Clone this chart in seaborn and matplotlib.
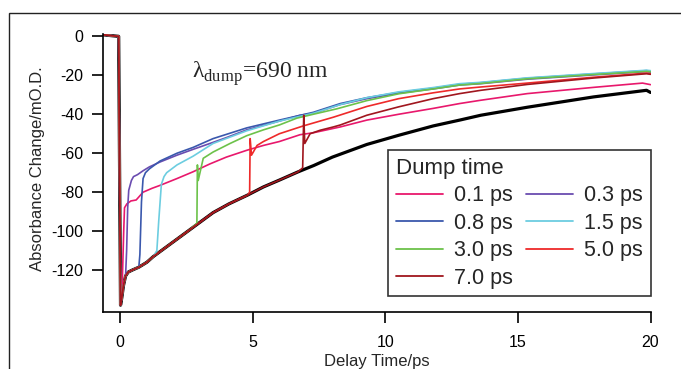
import matplotlib
matplotlib.use("Agg")
import matplotlib.pyplot as plt
from matplotlib.lines import Line2D
from matplotlib.patches import Rectangle
import seaborn as sns
import pandas as pd

# pump-only trace (black, not in legend)
t_ref = [-0.65, -0.3, -0.06, -0.03, 0.01, 0.06, 0.12, 0.2, 0.3, 0.45, 0.7, 1.0, 1.25,
         1.7, 2.15, 2.6, 2.9, 3.5, 4.1, 4.8, 5.4, 6.0, 6.7, 7.3, 8.0, 8.6, 9.3, 10.5,
         11.8, 12.8, 13.6, 15.35, 17.85, 19.85, 20.0]
v_ref = [0.8, 0.3, 0.0, -60, -138, -134, -128, -123, -121, -120, -118.5, -116, -113,
         -108.5, -104, -99.5, -96.5, -90.5, -86, -81.5, -77.3, -73.8, -69.6, -66.3, -62,
         -59, -55.5, -50.8, -46, -43, -40.5, -36.4, -31.1, -27.7, -28.8]

dump_labels = ["0.1 ps", "0.3 ps", "0.8 ps", "1.5 ps", "3.0 ps", "5.0 ps", "7.0 ps"]
dump_times = [0.1, 0.22, 0.7, 1.3, 2.88, 4.85, 6.85]
dump_colors = ["#e8186c", "#6a4cb0", "#3a58ad", "#6ccde0", "#6cc24a", "#ee2a2a", "#a0161e"]

# points after each dump pulse
t_01 = [0.13, 0.16, 0.25, 0.4, 0.6, 0.86, 1.2, 1.5, 2.14, 2.75, 3.38, 4.0, 4.77, 5.4, 6.0,
        6.78, 7.28, 8.3, 9.3, 10.5, 11.8, 12.8, 13.6, 15.35, 17.85, 19.7, 20.0]
v_01 = [-100, -88, -86, -84.5, -84, -80, -78, -76.5, -73, -69.5, -65.5, -62, -58.5, -56, -54,
        -50.5, -49.5, -46.5, -43, -40, -37, -34.5, -32.8, -29.4, -26.2, -24, -24.8]
t_03 = [0.24, 0.28, 0.32, 0.42, 0.5, 0.65, 0.86, 1.1, 1.5, 2.14, 2.75, 3.38, 4.0, 4.77,
        6.0, 6.78, 7.28, 8.3, 9.3, 10.5, 11.8, 12.8, 13.6, 15.35, 17.85, 19.85, 20.0]
v_03 = [-110, -88, -79, -74, -72, -71, -69, -67, -64.5, -61, -58, -55, -52, -48,
        -43.5, -40.5, -39.5, -35, -32, -29.2, -27, -25, -24.3, -22, -19.8, -18.1, -18.4]
t_08 = [0.74, 0.8, 0.86, 0.95, 1.1, 1.5, 2.14, 2.75, 3.5, 4.77, 6.0, 7.28, 8.3, 9.3,
        10.5, 11.8, 12.8, 13.6, 15.35, 17.85, 19.85, 20.0]
v_08 = [-112, -85, -73, -70, -68, -64, -60, -57, -52.5, -47, -43, -39, -34.5, -31.5,
        -28.8, -26.6, -24.6, -23.8, -21.5, -19.3, -17.6, -17.9]
t_15 = [1.38, 1.45, 1.55, 1.65, 1.75, 2.14, 2.75, 3.5, 4.77, 6.0, 7.28, 8.3, 9.3, 10.5,
        11.8, 12.8, 13.6, 15.35, 17.85, 19.85, 20.0]
v_15 = [-110, -95, -76, -72, -70, -66, -61.5, -55, -48.5, -43.5, -39.5, -35, -31.5, -28.5,
        -26.3, -24.3, -23.6, -21.3, -19.1, -17.4, -17.6]
t_30 = [2.89, 2.91, 2.94, 3.13, 3.5, 4.14, 4.77, 5.4, 6.0, 6.66, 7.28, 8.17, 9.3, 10.5,
        11.8, 12.8, 13.6, 15.35, 17.85, 19.85, 20.0]
v_30 = [-96, -66, -74, -62.6, -59.4, -55, -51, -48, -45.5, -42, -40, -37.2, -33, -29.5,
        -27, -25, -24.2, -21.8, -19.6, -18, -18.2]
t_50 = [4.88, 4.9, 4.95, 5.16, 5.4, 6.0, 6.9, 8.04, 9.3, 10.5, 11.8, 12.8, 13.6, 15.35,
        17.85, 19.85, 20.0]
v_50 = [-80, -52.5, -61, -56, -54, -50, -46, -41.5, -36, -32, -29, -27, -26, -24, -21,
        -18.9, -19.2]
t_70 = [6.88, 6.92, 6.96, 7.16, 7.54, 8.04, 8.3, 9.3, 10.5, 11.8, 12.8, 13.6, 15.35,
        17.85, 19.85, 20.0]
v_70 = [-67.5, -40.5, -55, -50, -48.2, -46.5, -45.5, -40.5, -36.2, -32, -29.4, -27.7,
        -24.7, -21.4, -19.2, -19.5]

after_t = [t_01, t_03, t_08, t_15, t_30, t_50, t_70]
after_v = [v_01, v_03, v_08, v_15, v_30, v_50, v_70]

rows = []
for lab, td, ts, vs in zip(dump_labels, dump_times, after_t, after_v):
    for t, v in zip(t_ref, v_ref):
        if t <= td:
            rows.append((lab, t, v))
    for t, v in zip(ts, vs):
        rows.append((lab, t, v))
df = pd.DataFrame(rows, columns=["dump", "t", "v"])
ref = pd.DataFrame({"t": t_ref, "v": v_ref})

sns.set_style("white")
plt.rcParams["font.family"] = ["Liberation Sans", "DejaVu Sans"]
plt.rcParams["axes.unicode_minus"] = False
plt.rcParams["mathtext.fontset"] = "custom"
plt.rcParams["mathtext.rm"] = "Liberation Serif"

fig = plt.figure(figsize=(6.81, 3.69), dpi=100)
ax = fig.add_axes([102.5 / 681, 1 - 312 / 369, 548 / 681, 278 / 369])

sns.lineplot(data=ref, x="t", y="v", color="black", lw=2.3, estimator=None, sort=False, ax=ax)
sns.lineplot(data=df, x="t", y="v", hue="dump", palette=dict(zip(dump_labels, dump_colors)),
             hue_order=dump_labels, lw=1.2, estimator=None, sort=False, legend=False, ax=ax)

ax.set_xlim(-0.67, 20.0)
ax.set_ylim(-141.5, 1.2)
ax.set_xticks([0, 5, 10, 15, 20])
ax.set_yticks([0, -20, -40, -60, -80, -100, -120])
for s in ["top", "right"]:
    ax.spines[s].set_visible(False)
for s in ["left", "bottom"]:
    ax.spines[s].set_color("black")
    ax.spines[s].set_linewidth(1.2)
ax.tick_params(axis="both", bottom=True, left=True, direction="out", length=8, width=1.2,
               labelsize=11.5, colors="black")
ax.tick_params(axis="x", pad=8.5)
ax.tick_params(axis="y", pad=6)

ax.set_xlabel("Delay Time/ps", fontsize=12)
ax.set_ylabel("Absorbance Change/mO.D.", fontsize=12)
ax.xaxis.set_label_coords(0.5, -0.15)
ax.yaxis.set_label_coords(-0.105, 0.514)

ax.text(2.7, -21.5, "λ$_{\\mathrm{dump}}$=690 nm", fontsize=17, family="Liberation Serif",
        ha="left", va="baseline")

# legend filled column-wise, so reorder to read row-wise
order = [0, 2, 4, 6, 1, 3, 5]
handles = [Line2D([], [], color=dump_colors[i], lw=1.3) for i in order]
labels = [dump_labels[i] for i in order]
leg = ax.legend(handles, labels, title="Dump time", ncol=2, loc="upper right",
                bbox_to_anchor=(1.0, 0.583), borderaxespad=0, fontsize=15.5, title_fontsize=16,
                frameon=True, fancybox=False, edgecolor="black", handlelength=2.2,
                handletextpad=0.5, columnspacing=0.6, labelspacing=0.3, borderpad=0.36,
                alignment="left")
leg.get_frame().set_linewidth(1.2)

fig.add_artist(Rectangle((8.5 / 681, -0.1), 1.2, 1 - 13 / 369 + 0.1, transform=fig.transFigure,
                         fill=False, lw=1.0, ec="#222222"))

fig.savefig("out.png", dpi=100)
